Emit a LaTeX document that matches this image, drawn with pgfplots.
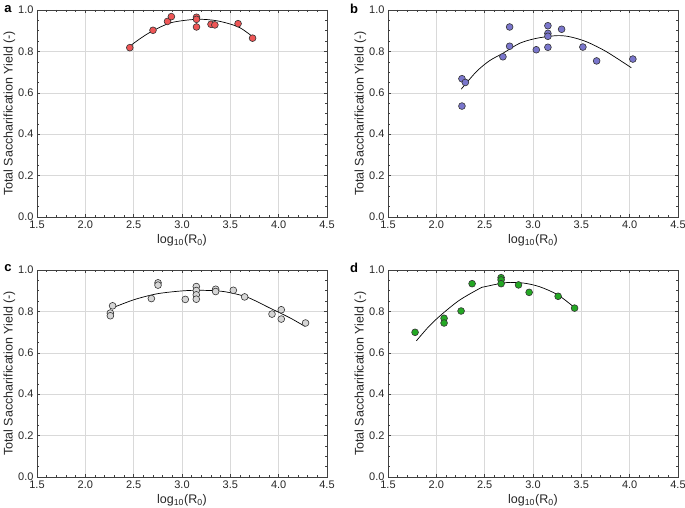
\documentclass[border=0pt]{standalone}
\usepackage{pgfplots}
\pgfplotsset{compat=1.18}
\usepackage{fontspec}
\setmainfont{Liberation Sans}
\definecolor{cA}{RGB}{238,86,86}
\definecolor{cB}{RGB}{122,118,204}
\definecolor{cC}{RGB}{214,214,214}
\definecolor{cD}{RGB}{36,168,36}
\pgfplotsset{panel/.style={
  width=290pt,height=207pt,scale only axis,
  xmin=1.5,xmax=4.5,ymin=0,ymax=1,
  xtick={1.5,2.0,2.5,3.0,3.5,4.0,4.5},
  ytick={0,0.2,0.4,0.6,0.8,1.0},
  minor x tick num=4, minor y tick num=3,
  grid=major, major grid style={black!15,line width=0.5pt},
  tick align=inside, xtick pos=both, ytick pos=both,
  axis line style={black!75,line width=0.8pt},
  every tick/.style={black!75,line width=0.5pt},
  major tick length=3pt, minor tick length=2pt,
  xticklabels={1.5,2.0,2.5,3.0,3.5,4.0,4.5},
  yticklabels={0.0,0.2,0.4,0.6,0.8,1.0},
  tick label style={font=\fontsize{11}{12}\selectfont, text=black!85},
  xticklabel pos=lower, yticklabel pos=left,
  label style={font=\fontsize{12.5}{14}\selectfont, text=black!85},
  xlabel={log\textsubscript{10}(R\textsubscript{0})},
  ylabel={Total Saccharification Yield (-)},
  xlabel style={yshift=1pt},
  ylabel style={yshift=-4pt},
  anchor=south west, clip=false,
},
pts/.style={only marks, mark=*, mark size=3.4pt, mark options={draw=black!80, line width=0.6pt, fill=#1}},
fit/.style={black, line width=0.7pt, smooth, no marks}
}
\begin{document}
\begin{tikzpicture}
\useasboundingbox (0,0) rectangle (685pt,-508pt);
% ---------------- a
\begin{axis}[panel, at={(37pt,-217pt)}]
\addplot[fit] coordinates {(2.453,0.823) (2.58,0.866) (2.70,0.900) (2.89,0.939) (3.15,0.955) (3.36,0.948) (3.58,0.919) (3.73,0.871)};
\addplot[pts=cA] coordinates {
(2.46,0.818) (2.70,0.902) (2.85,0.945) (2.89,0.968)
(3.15,0.965) (3.15,0.955) (3.15,0.918)
(3.30,0.931) (3.34,0.928) (3.58,0.934) (3.73,0.864)};
\end{axis}
% ---------------- b
\begin{axis}[panel, at={(388pt,-217pt)}]
\addplot[fit] coordinates {(2.258,0.618) (2.414,0.702) (2.55,0.755) (2.689,0.791) (2.861,0.839) (3.034,0.863) (3.241,0.876) (3.378,0.871) (3.551,0.847) (3.758,0.799) (4.017,0.721)};
\addplot[pts=cB] coordinates {
(2.265,0.668) (2.30,0.650) (2.265,0.536)
(2.689,0.774) (2.758,0.918) (2.758,0.825)
(3.034,0.808) (3.154,0.924) (3.154,0.887) (3.154,0.873) (3.154,0.820)
(3.296,0.907) (3.516,0.821) (3.658,0.754) (4.033,0.763)};
\end{axis}
% ---------------- c
\begin{axis}[panel, at={(37pt,-477pt)}]
\addplot[fit] coordinates {(2.259,0.813) (2.5,0.856) (2.741,0.885) (3.0,0.899) (3.19,0.902) (3.43,0.896) (3.672,0.869) (3.91,0.816) (4.12,0.768) (4.27,0.728)};
\addplot[pts=cC] coordinates {
(2.282,0.827) (2.259,0.792) (2.259,0.779)
(2.683,0.862) (2.752,0.938) (2.752,0.927)
(3.034,0.858) (3.148,0.920) (3.148,0.901) (3.148,0.880) (3.148,0.859)
(3.348,0.907) (3.348,0.896) (3.531,0.902) (3.648,0.870)
(3.931,0.787) (4.027,0.808) (4.027,0.763) (4.278,0.744)};
\end{axis}
% ---------------- d
\begin{axis}[panel, at={(388pt,-477pt)}]
\addplot[fit] coordinates {(1.794,0.658) (1.93,0.731) (2.069,0.791) (2.242,0.855) (2.449,0.911) (2.50,0.919) (2.72,0.939) (2.90,0.937) (3.07,0.919) (3.26,0.879) (3.43,0.818)};
\addplot[pts=cD] coordinates {
(1.78,0.699) (2.08,0.767) (2.08,0.744) (2.256,0.802) (2.37,0.934)
(2.67,0.963) (2.67,0.952) (2.67,0.934)
(2.85,0.928) (2.96,0.892) (3.26,0.873) (3.43,0.816)};
\end{axis}
\node[font=\bfseries\fontsize{13}{14}\selectfont] at (8pt,-9pt) {a};
\node[font=\bfseries\fontsize{13}{14}\selectfont] at (354pt,-9pt) {b};
\node[font=\bfseries\fontsize{13}{14}\selectfont] at (8pt,-268pt) {c};
\node[font=\bfseries\fontsize{13}{14}\selectfont] at (354pt,-268pt) {d};
\end{tikzpicture}
\end{document}
